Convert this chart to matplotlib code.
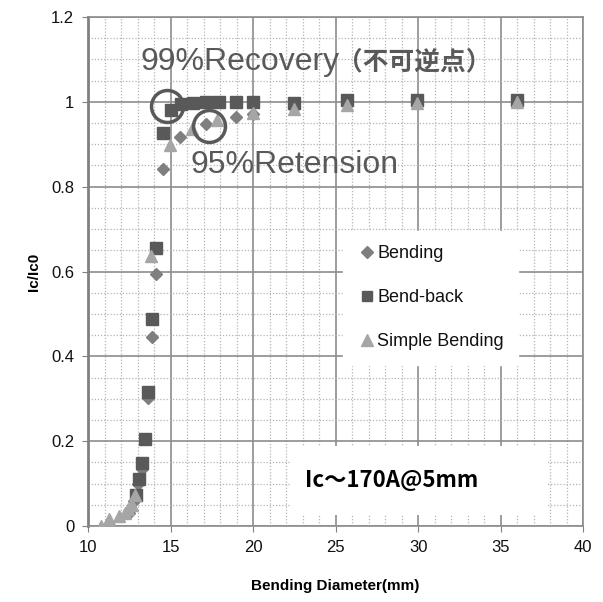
import matplotlib
matplotlib.use("Agg")
import matplotlib.pyplot as plt
from matplotlib.patches import Rectangle
from matplotlib.ticker import MultipleLocator

plt.rcParams['font.family'] = ['Liberation Sans', 'Noto Sans CJK JP']

# 曲げ直径 (mm) と Ic/Ic0
bend_x = [12.5, 12.8, 13.05, 13.25, 13.66, 13.88, 14.12, 14.53, 15.6, 17.15, 18.97, 19.98, 22.48, 25.7, 29.96, 35.98]
bend_y = [0.03, 0.06, 0.10, 0.135, 0.303, 0.445, 0.594, 0.841, 0.918, 0.947, 0.965, 0.970, 0.985, 0.995, 1.0, 1.0]

back_x = [12.9, 13.09, 13.25, 13.45, 13.66, 13.88, 14.12, 14.53, 15.0, 15.65, 16.38, 17.15, 17.96, 18.97, 19.98, 22.48, 25.7, 29.96, 35.98]
back_y = [0.073, 0.11, 0.148, 0.205, 0.315, 0.488, 0.655, 0.926, 0.98, 0.994, 0.998, 1.0, 1.0, 1.0, 1.0, 0.998, 1.003, 1.004, 1.003]

simple_x = [10.8, 11.3, 11.9, 12.24, 12.44, 12.65, 12.85, 13.84, 14.97, 16.28, 17.84, 19.98, 22.48, 25.7, 29.96, 35.98]
simple_y = [0.0, 0.018, 0.025, 0.031, 0.04, 0.05, 0.073, 0.637, 0.899, 0.935, 0.956, 0.973, 0.983, 0.993, 0.997, 1.0]

# 注目点 (99%回復, 95%保持)
mark_x = [14.8, 17.35]
mark_y = [0.99, 0.942]

fig = plt.figure(figsize=(6.03, 6.02), dpi=100)
ax = fig.add_axes([0.146, 0.126, 0.821, 0.846])

ax.set_xlim(10, 40)
ax.set_ylim(0, 1.2)
ax.xaxis.set_major_locator(MultipleLocator(5))
ax.xaxis.set_minor_locator(MultipleLocator(1))
ax.yaxis.set_major_locator(MultipleLocator(0.2))
ax.yaxis.set_minor_locator(MultipleLocator(0.05))
ax.set_yticks([0, 0.2, 0.4, 0.6, 0.8, 1.0, 1.2])
ax.set_yticklabels(['0', '0.2', '0.4', '0.6', '0.8', '1', '1.2'])

ax.grid(which='major', color='#8c8c8c', linewidth=1.2, zorder=0)
ax.grid(which='minor', color='#b4b4b4', linewidth=0.9, linestyle=(0, (1, 1.5)), zorder=0)
ax.set_axisbelow(True)

ax.tick_params(which='major', direction='out', length=4, color='#808080', labelsize=12, labelcolor='#111111', pad=6)
ax.tick_params(which='minor', length=0)
for side in ['top', 'right', 'bottom']:
    ax.spines[side].set_color('#8c8c8c')
    ax.spines[side].set_linewidth(1.2)
ax.spines['left'].set_color('#808080')
ax.spines['left'].set_linewidth(2.0)

ax.plot(bend_x, bend_y, linestyle='none', marker='D', markersize=6.5, color='#7f7f7f', label='Bending', zorder=3)
ax.plot(back_x, back_y, linestyle='none', marker='s', markersize=8, color='#595959', label='Bend-back', zorder=3)
ax.plot(simple_x, simple_y, linestyle='none', marker='^', markersize=9, color='#a6a6a6', label='Simple Bending', zorder=3)

# 丸印
for cx, cy in zip(mark_x, mark_y):
    ax.plot([cx], [cy], linestyle='none', marker='o', markersize=23, markerfacecolor='none',
            markeredgecolor='#595959', markeredgewidth=2.5, zorder=4)

ax.text(13.15, 1.093, '99%Recovery', fontsize=23, color='#595959', va='center', zorder=5)
ax.text(25.1, 1.093, '（不可逆点）', fontsize=18.5, color='#595959', fontweight='bold',
        family=['Noto Sans CJK JP'], va='center', zorder=5)
ax.text(16.2, 0.851, '95%Retension', fontsize=23, color='#595959', va='center', zorder=5)

leg = ax.legend(loc='upper left', bbox_to_anchor=(0.497, 0.598), frameon=True, fontsize=13,
                handletextpad=0.1, handlelength=1.0, labelspacing=1.5, borderpad=0.8,
                markerscale=0.9)
leg.get_frame().set_edgecolor('white')
leg.get_frame().set_facecolor('white')
leg.get_frame().set_alpha(1)
leg.get_frame().set_boxstyle('square', pad=0)
for t in leg.get_texts():
    t.set_color('#111111')

# 注記ボックス
ax.add_patch(Rectangle((0.41, 0.022), 0.52, 0.135, transform=ax.transAxes,
                       facecolor='white', edgecolor='none', zorder=5))
ax.text(0.439, 0.09, 'Ic～170A@5mm', transform=ax.transAxes, fontsize=16, fontweight='bold',
        family=['Noto Sans CJK JP'], color='black', va='center', zorder=6)

ax.set_xlabel('Bending Diameter(mm)', fontsize=11, fontweight='bold', labelpad=17)
ax.set_ylabel('Ic/Ic0', fontsize=11, fontweight='bold', labelpad=7)

fig.savefig('out.png', dpi=100)
